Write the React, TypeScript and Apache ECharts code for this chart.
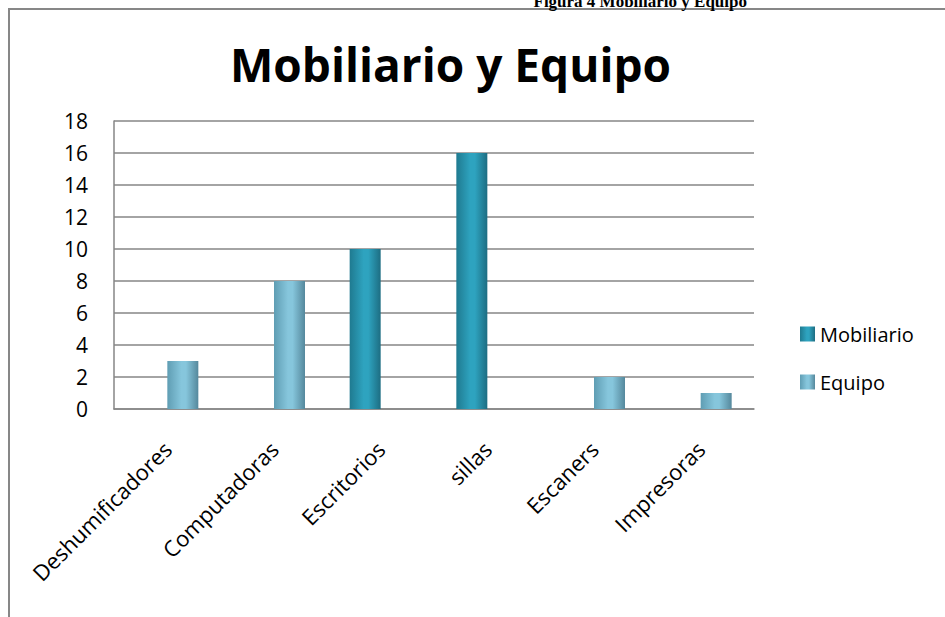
import React, { useEffect, useRef } from "react";
import * as echarts from "echarts";

const categories = ["Deshumificadores", "Computadoras", "Escritorios", "sillas", "Escaners", "Impresoras"];
const mobiliario = [0, 0, 10, 16, 0, 0];
const equipo = [3, 8, 0, 0, 2, 1];
const seriesNames = ["Mobiliario", "Equipo"];
const chartTitle = "Mobiliario y Equipo";
const figureCaption = "Figura 4 Mobiliario y Equipo";

const FONT = "'Open Sans', 'Noto Sans', sans-serif";

function grad(edge: string, mid: string, edge2: string) {
  return new echarts.graphic.LinearGradient(0, 0, 1, 0, [
    { offset: 0, color: edge },
    { offset: 0.45, color: mid },
    { offset: 0.6, color: mid },
    { offset: 1, color: edge2 },
  ]);
}

export default function App() {
  const ref = useRef<HTMLDivElement>(null);
  useEffect(() => {
    if (!ref.current) return;
    const chart = echarts.init(ref.current, null, { renderer: "svg" });
    const mobColor = grad("#1f7a90", "#2ea3bf", "#1d6d82");
    const eqColor = grad("#5f9db3", "#86c6dc", "#55889c");
    chart.setOption({
      animation: false,
      backgroundColor: "#ffffff",
      title: {
        text: chartTitle,
        left: 225,
        top: 36,
        textStyle: { fontFamily: FONT, fontSize: 46, fontWeight: "bold", color: "#000" },
      },
      graphic: [
        {
          type: "rect",
          shape: { x: 9, y: 9, width: 1000, height: 700 },
          style: { fill: "none", stroke: "#878787", lineWidth: 2 },
          silent: true,
        },
        {
          type: "text",
          x: 747,
          y: 10,
          style: {
            text: figureCaption,
            fontFamily: "'Liberation Serif', 'Times New Roman', serif",
            fontWeight: "bold",
            fontSize: 17,
            fill: "#000",
            align: "right",
            verticalAlign: "bottom",
          },
        },
      ],
      legend: {
        orient: "vertical",
        left: 795,
        top: 319,
        itemWidth: 15,
        itemHeight: 15,
        itemGap: 28,
        itemTextGap: 9,
        icon: "rect",
        data: seriesNames,
        textStyle: { fontFamily: FONT, fontSize: 20, color: "#000" },
      },
      grid: { left: 114, right: 191, top: 121, bottom: 208, containLabel: false },
      xAxis: {
        type: "category",
        data: categories,
        axisLine: { show: true, lineStyle: { color: "#868686", width: 1.5 } },
        axisTick: { show: false },
        axisLabel: {
          interval: 0,
          rotate: 45,
          margin: 36,
          fontFamily: FONT,
          fontSize: 22,
          color: "#000",
        },
      },
      yAxis: {
        type: "value",
        min: 0,
        max: 18,
        interval: 2,
        axisLine: { show: true, lineStyle: { color: "#868686", width: 1.5 } },
        axisTick: { show: false },
        splitLine: { show: true, lineStyle: { color: "#868686", width: 1.5 } },
        axisLabel: { margin: 26, fontFamily: FONT, fontSize: 21, color: "#000" },
      },
      series: [
        {
          name: seriesNames[0],
          type: "bar",
          data: mobiliario,
          barWidth: 31,
          barGap: "0%",
          itemStyle: { color: mobColor },
        },
        {
          name: seriesNames[1],
          type: "bar",
          data: equipo,
          barWidth: 31,
          barGap: "0%",
          itemStyle: { color: eqColor },
        },
      ],
    });
    return () => chart.dispose();
  }, []);
  return (
    <div
      ref={ref}
      style={{ position: "absolute", left: 0, top: 0, width: 945, height: 617 }}
    />
  );
}
